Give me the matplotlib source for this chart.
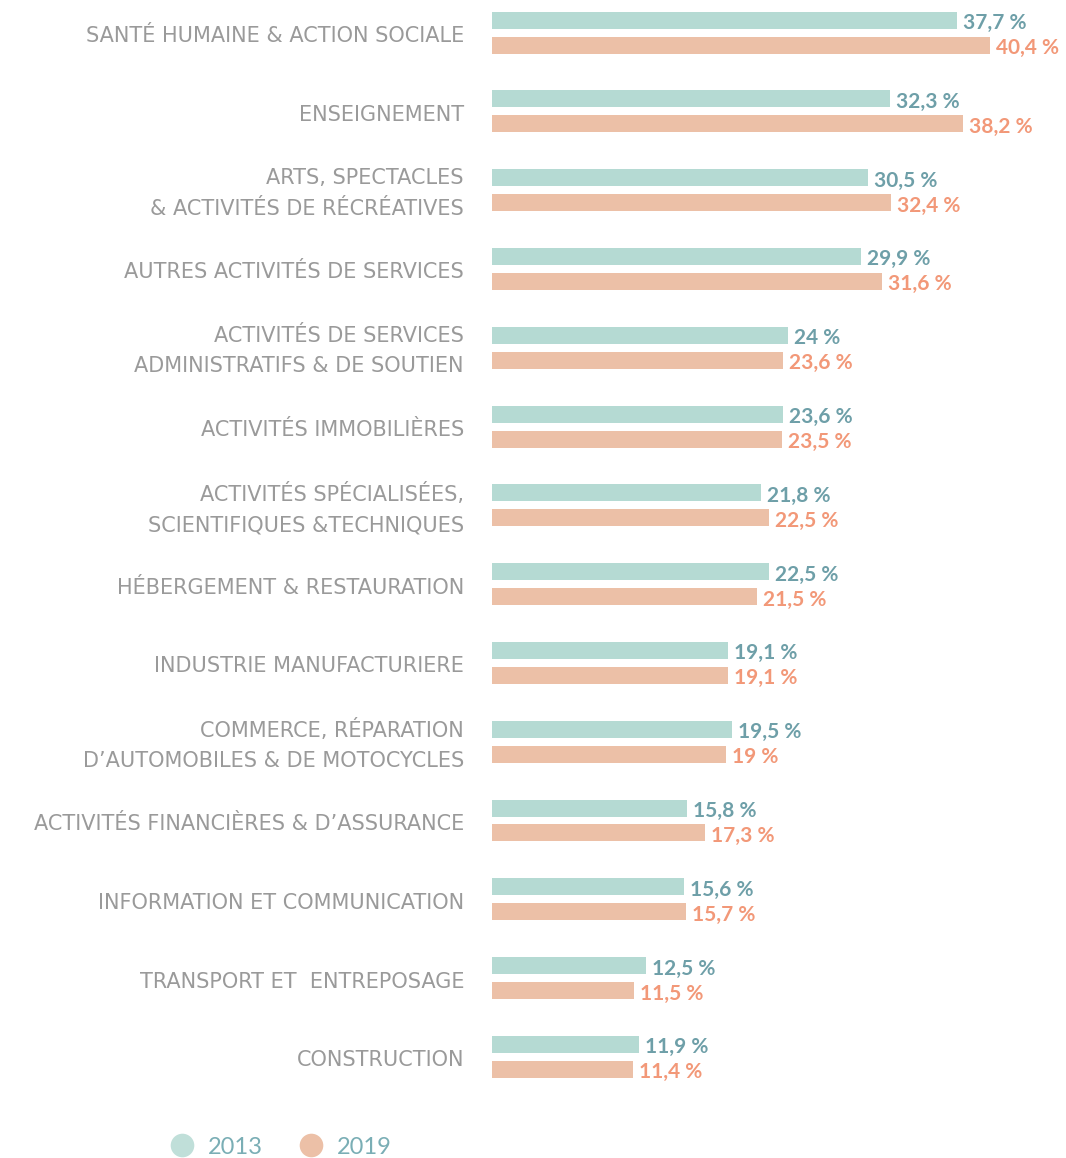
import matplotlib
matplotlib.use("Agg")
import matplotlib.pyplot as plt
from matplotlib.lines import Line2D

categories = [
    "SANTÉ HUMAINE & ACTION SOCIALE",
    "ENSEIGNEMENT",
    "ARTS, SPECTACLES\n& ACTIVITÉS DE RÉCRÉATIVES",
    "AUTRES ACTIVITÉS DE SERVICES",
    "ACTIVITÉS DE SERVICES\nADMINISTRATIFS & DE SOUTIEN",
    "ACTIVITÉS IMMOBILIÈRES",
    "ACTIVITÉS SPÉCIALISÉES,\nSCIENTIFIQUES &TECHNIQUES",
    "HÉBERGEMENT & RESTAURATION",
    "INDUSTRIE MANUFACTURIERE",
    "COMMERCE, RÉPARATION\nD’AUTOMOBILES & DE MOTOCYCLES",
    "ACTIVITÉS FINANCIÈRES & D’ASSURANCE",
    "INFORMATION ET COMMUNICATION",
    "TRANSPORT ET  ENTREPOSAGE",
    "CONSTRUCTION",
]
values_2013 = [37.7, 32.3, 30.5, 29.9, 24.0, 23.6, 21.8, 22.5, 19.1, 19.5, 15.8, 15.6, 12.5, 11.9]
values_2019 = [40.4, 38.2, 32.4, 31.6, 23.6, 23.5, 22.5, 21.5, 19.1, 19.0, 17.3, 15.7, 11.5, 11.4]
series_names = ["2013", "2019"]

def fmt(v):
    s = f"{v:.1f}".replace(".", ",")
    if s.endswith(",0"):
        s = s[:-2]
    return s + " %"

BAR13 = "#B5DAD3"
BAR19 = "#ECC0A7"
TXT13 = "#6E9FA8"
TXT19 = "#F29878"
CAT = "#9A9A9A"
LEG = "#7AAEB5"

W, H = 1066, 1158
fig = plt.figure(figsize=(W / 100, H / 100), dpi=100)
x0 = 492
pxpct = 12.33
step = 78.8
top_mid = 32.5
ax = fig.add_axes([x0 / W, 0, (W - x0) / W, 1])
ax.set_xlim(0, (W - x0) / pxpct)
ax.set_ylim((H - top_mid) / step, -top_mid / step)
ax.axis("off")

off = 12.5 / step
bh = 17 / step
n = len(categories)
ys = list(range(n))
ax.barh([y - off for y in ys], values_2013, height=bh, color=BAR13)
ax.barh([y + off for y in ys], values_2019, height=bh, color=BAR19)

dx = 6 / pxpct
dy = 3 / step
for y, v in zip(ys, values_2013):
    ax.text(v + dx, y - off + dy, fmt(v), color=TXT13, fontsize=15, fontweight="bold",
            family=["Lato", "DejaVu Sans"], va="center", ha="left")
for y, v in zip(ys, values_2019):
    ax.text(v + dx, y + off + dy, fmt(v), color=TXT19, fontsize=15, fontweight="bold",
            family=["Lato", "DejaVu Sans"], va="center", ha="left")

lab_x = -28 / pxpct
for y, c in zip(ys, categories):
    ax.text(lab_x, y + 3.5 / step, c, color=CAT, fontsize=15, family=["DejaVu Sans"],
            fontweight="normal", ha="right", va="center", linespacing=1.65, clip_on=False)

handles = [
    Line2D([], [], marker="o", linestyle="none", markersize=17, markerfacecolor=BAR13,
           markeredgecolor="none", alpha=0.85),
    Line2D([], [], marker="o", linestyle="none", markersize=17, markerfacecolor=BAR19,
           markeredgecolor="none"),
]
leg = fig.legend(handles, series_names, loc="center left", bbox_to_anchor=(137 / W, 1 - 1147 / H),
                 ncol=2, frameon=False, handletextpad=0.1, columnspacing=1.05,
                 prop={"family": ["Lato", "DejaVu Sans"], "size": 17})
for t in leg.get_texts():
    t.set_color(LEG)

fig.savefig("out.png", dpi=100)
